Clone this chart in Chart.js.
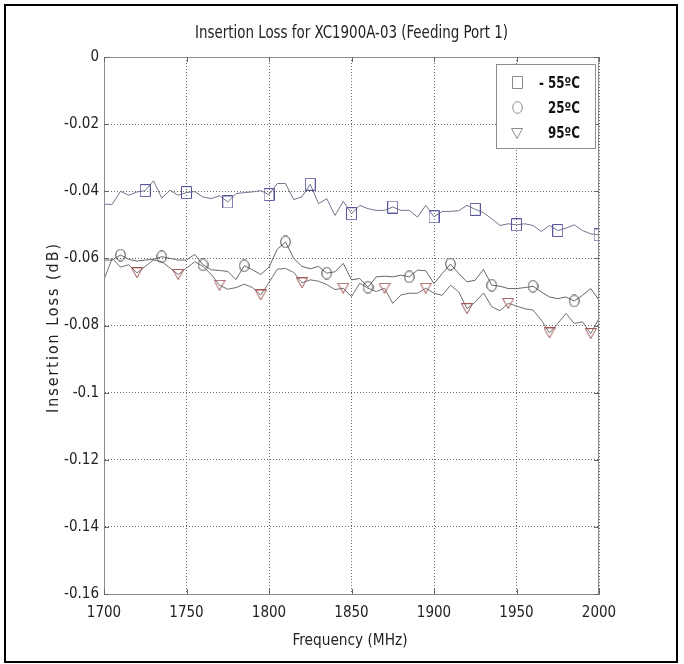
<!DOCTYPE html>
<html><head><meta charset="utf-8">
<script src="https://cdn.jsdelivr.net/npm/chart.js@4/dist/chart.umd.min.js"></script>
<style>html,body{margin:0;padding:0;background:#fff;}canvas{display:block;}</style>
</head><body>
<canvas id="c" width="684" height="664"></canvas>
<script>
const freqMHz = [1700,1705,1710,1715,1720,1725,1730,1735,1740,1745,1750,1755,1760,1765,1770,1775,1780,1785,1790,1795,
  1800,1805,1810,1815,1820,1825,1830,1835,1840,1845,1850,1855,1860,1865,1870,1875,1880,1885,1890,1895,
  1900,1905,1910,1915,1920,1925,1930,1935,1940,1945,1950,1955,1960,1965,1970,1975,1980,1985,1990,1995,2000];
const lossM55 = [-0.0439,-0.0439,-0.0400,-0.0412,-0.0402,-0.0398,-0.0369,-0.0420,-0.0397,-0.0412,-0.0404,-0.0401,-0.0417,-0.0422,-0.0413,-0.0432,-0.0407,-0.0404,-0.0402,-0.0398,
  -0.0410,-0.0377,-0.0377,-0.0425,-0.0416,-0.0379,-0.0437,-0.0422,-0.0472,-0.0430,-0.0467,-0.0442,-0.0452,-0.0457,-0.0457,-0.0447,-0.0457,-0.0457,-0.0477,-0.0442,
  -0.0476,-0.0460,-0.0460,-0.0458,-0.0442,-0.0454,-0.0464,-0.0482,-0.0502,-0.0497,-0.0500,-0.0497,-0.0502,-0.0520,-0.0502,-0.0517,-0.0510,-0.0500,-0.0517,-0.0527,-0.0530];
const loss25 = [-0.0605,-0.0605,-0.0590,-0.0603,-0.0608,-0.0605,-0.0603,-0.0595,-0.0600,-0.0605,-0.0605,-0.0588,-0.0619,-0.0634,-0.0636,-0.0639,-0.0663,-0.0622,-0.0634,-0.0648,
  -0.0626,-0.0573,-0.0551,-0.0600,-0.0624,-0.0631,-0.0624,-0.0644,-0.0640,-0.0615,-0.0664,-0.0660,-0.0686,-0.0655,-0.0653,-0.0655,-0.0650,-0.0655,-0.0635,-0.0637,
  -0.0675,-0.0645,-0.0617,-0.0645,-0.0670,-0.0665,-0.0633,-0.0680,-0.0683,-0.0690,-0.0690,-0.0687,-0.0683,-0.0700,-0.0715,-0.0720,-0.0715,-0.0727,-0.0710,-0.0690,-0.0724];
const loss95 = [-0.0663,-0.0600,-0.0626,-0.0619,-0.0643,-0.0624,-0.0605,-0.0610,-0.0629,-0.0648,-0.0629,-0.0610,-0.0624,-0.0648,-0.0680,-0.0692,-0.0687,-0.0677,-0.0687,-0.0709,
  -0.0672,-0.0632,-0.0630,-0.0642,-0.0673,-0.0664,-0.0668,-0.0678,-0.0693,-0.0689,-0.0714,-0.0674,-0.0689,-0.0699,-0.0689,-0.0734,-0.0709,-0.0704,-0.0704,-0.0689,
  -0.0704,-0.0710,-0.0680,-0.0700,-0.0750,-0.0730,-0.0703,-0.0744,-0.0756,-0.0734,-0.0742,-0.0750,-0.0754,-0.0784,-0.0822,-0.0794,-0.0764,-0.0794,-0.0789,-0.0824,-0.0779];
const markM55 = [1725,1750,1775,1800,1825,1850,1875,1900,1925,1950,1975,2000];
const mark25 = [1710,1735,1760,1785,1810,1835,1860,1885,1910,1935,1960,1985];
const mark95 = [1720,1745,1770,1795,1820,1845,1870,1895,1920,1945,1970,1995];
const seriesNames = ['- 55\u00baC', '25\u00baC', '95\u00baC'];
const chartTitle = 'Insertion Loss for XC1900A-03 (Feeding Port 1)';
const xTitle = 'Frequency (MHz)';
const yTitle = 'Insertion Loss (dB)';
const xMin = 1700, xMax = 2000, xStep = 50;
const yMin = -0.16, yMax = 0, yStep = 0.02;

const FONT = "'Liberation Sans Narrow','Arial Narrow','DejaVu Sans Condensed','Roboto Condensed',sans-serif";

function makeMarker(kind, color) {
  const c = document.createElement('canvas');
  let w, h;
  if (kind === 'square') { w = 11; h = 13; }
  else if (kind === 'circle') { w = 11; h = 13; }
  else { w = 12; h = 11; }
  c.width = w; c.height = h;
  const x = c.getContext('2d');
  x.strokeStyle = color; x.lineWidth = 1;
  x.beginPath();
  if (kind === 'square') x.rect(0.5, 0.5, w - 1, h - 1);
  else if (kind === 'circle') x.ellipse(w / 2, h / 2, w / 2 - 0.7, h / 2 - 0.7, 0, 0, Math.PI * 2);
  else { x.moveTo(0.5, 0.5); x.lineTo(w - 0.5, 0.5); x.lineTo(w / 2, h - 0.5); x.closePath(); }
  x.stroke();
  return c;
}
const mkSq = makeMarker('square', '#55559a');
const mkCi = makeMarker('circle', '#444444');
const mkTr = makeMarker('tri', '#a05555');
const lgSq = makeMarker('square', '#8a8a8a');
const lgCi = makeMarker('circle', '#8a8a8a');
const lgTr = makeMarker('tri', '#8a8a8a');

function pts(arr) { return freqMHz.map((f, i) => ({x: f, y: arr[i]})); }
function radiusFor(marks) { return (c) => marks.includes(freqMHz[c.dataIndex]) ? 5 : 0; }

function fitText(ctx, text, x, y, target, align) {
  const w = ctx.measureText(text).width;
  const sx = target / w;
  ctx.save();
  ctx.translate(x, y);
  ctx.scale(sx, 1);
  ctx.textAlign = 'left';
  const off = align === 'center' ? -w / 2 : (align === 'right' ? -w : 0);
  ctx.fillText(text, off, 0);
  ctx.restore();
}

const decor = {
  id: 'decor',
  beforeDraw(chart) {
    const ctx = chart.ctx;
    ctx.save();
    ctx.fillStyle = '#fff';
    ctx.fillRect(0, 0, chart.width, chart.height);
    ctx.restore();
  },
  afterDraw(chart) {
    const ctx = chart.ctx;
    const a = chart.chartArea;
    const xs = chart.scales.x, ys = chart.scales.y;
    ctx.save();
    ctx.strokeStyle = '#8c8c8c'; ctx.lineWidth = 1;
    ctx.strokeRect(Math.round(a.left) + 0.5, Math.round(a.top) + 0.5, Math.round(a.right - a.left) - 1, Math.round(a.bottom - a.top));
    ctx.strokeStyle = '#666';
    ctx.beginPath();
    xs.ticks.forEach(t => {
      const p = Math.round(xs.getPixelForValue(t.value)) + 0.5;
      ctx.moveTo(p, a.bottom); ctx.lineTo(p, a.bottom - 5);
      ctx.moveTo(p, a.top); ctx.lineTo(p, a.top + 5);
    });
    ys.ticks.forEach(t => {
      const p = Math.round(ys.getPixelForValue(t.value)) + 0.5;
      ctx.moveTo(a.left, p); ctx.lineTo(a.left + 5, p);
      ctx.moveTo(a.right, p); ctx.lineTo(a.right - 5, p);
    });
    ctx.stroke();
    ctx.fillStyle = '#222';
    ctx.textBaseline = 'alphabetic';
    ctx.font = '17px ' + FONT;
    fitText(ctx, chartTitle, 351.5, 37.5, 313, 'center');
    ctx.font = '16px ' + FONT;
    fitText(ctx, xTitle, 350, 645, 115, 'center');
    ctx.save();
    ctx.translate(58, 327.5);
    ctx.rotate(-Math.PI / 2);
    ctx.font = '16px ' + FONT;
    try { ctx.letterSpacing = '2px'; } catch (e) {}
    fitText(ctx, yTitle, 0, 0, 171, 'center');
    ctx.restore();
    ctx.fillStyle = '#fff';
    ctx.fillRect(496, 64, 99, 84);
    ctx.strokeStyle = '#8c8c8c';
    ctx.strokeRect(496.5, 64.5, 99, 84);
    const lg = [[lgSq, 82, 87.5, 41], [lgCi, 107, 113, 32], [lgTr, 133, 137.5, 32]];
    ctx.fillStyle = '#111';
    ctx.font = 'bold 16px ' + FONT;
    lg.forEach((e, i) => {
      ctx.drawImage(e[0], Math.round(517 - e[0].width / 2), Math.round(e[1] - e[0].height / 2));
      fitText(ctx, seriesNames[i], 580, e[2], e[3], 'right');
    });
    ctx.strokeStyle = '#000'; ctx.lineWidth = 2;
    ctx.strokeRect(5, 5, 672, 657);
    ctx.restore();
  }
};

new Chart(document.getElementById('c'), {
  type: 'line',
  data: {
    datasets: [
      {label: seriesNames[0], data: pts(lossM55), borderColor: '#74748c', borderWidth: 1, pointStyle: mkSq, pointRadius: radiusFor(markM55)},
      {label: seriesNames[1], data: pts(loss25), borderColor: '#666666', borderWidth: 1, pointStyle: mkCi, pointRadius: radiusFor(mark25)},
      {label: seriesNames[2], data: pts(loss95), borderColor: '#707070', borderWidth: 1, pointStyle: mkTr, pointRadius: radiusFor(mark95)}
    ]
  },
  options: {
    responsive: false,
    devicePixelRatio: 1,
    animation: false,
    events: [],
    layout: {padding: {left: 0, top: 57, right: 85, bottom: 0}},
    elements: {line: {tension: 0}, point: {hoverRadius: 0}},
    plugins: {legend: {display: false}, title: {display: false}, tooltip: {enabled: false}},
    scales: {
      x: {
        type: 'linear', min: xMin, max: xMax,
        afterFit(s) { s.height = 70; },
        grid: {color: '#6a6a6a', lineWidth: 1, drawTicks: false},
        border: {display: true, color: '#8c8c8c', dash: [1, 2]},
        ticks: {stepSize: xStep, autoSkip: false, maxRotation: 0, padding: 10, color: '#222',
          font: {family: FONT, size: 15}, callback: v => String(v)}
      },
      y: {
        type: 'linear', min: yMin, max: yMax,
        afterFit(s) { s.width = 104; },
        grid: {color: '#6a6a6a', lineWidth: 1, drawTicks: false},
        border: {display: true, color: '#8c8c8c', dash: [1, 2]},
        ticks: {stepSize: yStep, autoSkip: false, padding: 5, color: '#222',
          font: {family: FONT, size: 15}, callback: v => String(Number(v.toFixed(2)))}
      }
    }
  },
  plugins: [decor]
});
</script>
</body></html>
